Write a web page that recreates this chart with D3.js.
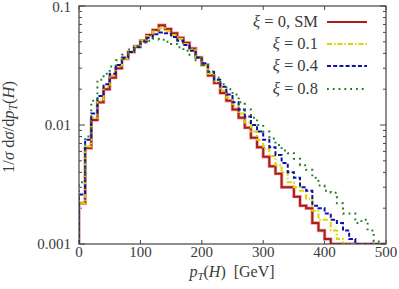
<!DOCTYPE html>
<html>
<head>
<meta charset="utf-8">
<script src="https://cdn.jsdelivr.net/npm/d3@7"></script>
<style>
  body { margin: 0; background: #fff; }
  text { font-family: "Liberation Serif", "DejaVu Serif", serif; fill: #3a3a3a; }
</style>
</head>
<body>
<svg id="chart" width="399" height="289"></svg>
<script>
// bins of 10 GeV, 0..500 GeV (values below 0.001 are cut at the bottom)
const binWidth = 10;
const seriesNames = ["ξ = 0, SM", "ξ = 0.1", "ξ = 0.4", "ξ = 0.8"];

const sm = [0.0022, 0.0064, 0.011, 0.0155, 0.020, 0.025, 0.030, 0.036, 0.041, 0.046,
  0.051, 0.057, 0.063, 0.069, 0.064, 0.059, 0.054, 0.049, 0.044, 0.037,
  0.032, 0.026, 0.0225, 0.0186, 0.016, 0.0135, 0.0115, 0.0095, 0.0078, 0.0065,
  0.0054, 0.0045, 0.0039, 0.0030, 0.0030, 0.0025, 0.0021, 0.0020, 0.0015, 0.0013,
  0.0011, 0.001, 0, 0, 0, 0, 0, 0, 0, 0];
const xi01 = [0.0022, 0.0066, 0.0115, 0.016, 0.021, 0.026, 0.031, 0.036, 0.041, 0.046,
  0.051, 0.056, 0.061, 0.065, 0.062, 0.057, 0.053, 0.048, 0.043, 0.037,
  0.032, 0.027, 0.023, 0.0195, 0.017, 0.0145, 0.0125, 0.0105, 0.0088, 0.0075,
  0.0063, 0.0055, 0.0046, 0.0040, 0.0033, 0.0030, 0.0028, 0.0024, 0.0019, 0.0016,
  0.0016, 0.0013, 0.0011, 0.001, 0, 0, 0, 0, 0, 0];
const xi04 = [0.0026, 0.0075, 0.0125, 0.0175, 0.022, 0.027, 0.032, 0.037, 0.041, 0.045,
  0.050, 0.054, 0.058, 0.060, 0.059, 0.055, 0.051, 0.047, 0.042, 0.037,
  0.033, 0.028, 0.024, 0.021, 0.018, 0.0155, 0.0135, 0.0118, 0.010, 0.0088,
  0.0075, 0.0065, 0.0056, 0.0048, 0.0040, 0.0036, 0.0030, 0.0028, 0.0021, 0.0020,
  0.0018, 0.0016, 0.0015, 0.0013, 0.0011, 0.001, 0, 0, 0, 0];
const xi08 = [0.0033, 0.0080, 0.016, 0.024, 0.027, 0.031, 0.035, 0.039, 0.043, 0.046,
  0.049, 0.051, 0.053, 0.052, 0.050, 0.048, 0.045, 0.042, 0.039, 0.035,
  0.032, 0.028, 0.025, 0.022, 0.020, 0.018, 0.0155, 0.0135, 0.0115, 0.010,
  0.0088, 0.0077, 0.0068, 0.0061, 0.0058, 0.0052, 0.0046, 0.0042, 0.0036, 0.0031,
  0.0028, 0.0027, 0.0022, 0.0018, 0.0018, 0.0015, 0.0016, 0.0013, 0.00105, 0.001];

const xTicks = [0, 100, 200, 300, 400, 500];
const yTicks = [0.001, 0.01, 0.1];
const yTickLabels = ["0.001", "0.01", "0.1"];

const allSeries = [sm, xi01, xi04, xi08];
const colors = ["#b01a1a", "#d6d600", "#1010a8", "#1d7d1d"];
const dashes = [null, "5,2,1.5,2", "4,2.2", "1.8,4"];

const pLeft = 79, pRight = 386, pTop = 6, pBottom = 244;
const x = d3.scaleLinear().domain([0, 500]).range([pLeft, pRight]);
const y = d3.scaleLog().domain([0.001, 0.1]).range([pBottom, pTop]);

const svg = d3.select("#chart");

svg.append("clipPath").attr("id", "clip")
  .append("rect").attr("x", pLeft).attr("y", pTop)
  .attr("width", pRight - pLeft).attr("height", pBottom - pTop);

// minor log ticks, both sides
const minor = [];
for (const dec of [0.001, 0.01]) for (let k = 2; k <= 9; k++) minor.push(dec * k);

const axisCol = "#444";
const tg = svg.append("g").attr("stroke", axisCol).attr("stroke-width", 1);
minor.forEach(v => {
  tg.append("line").attr("x1", pLeft).attr("x2", pLeft + 3).attr("y1", y(v)).attr("y2", y(v));
  tg.append("line").attr("x1", pRight).attr("x2", pRight - 3).attr("y1", y(v)).attr("y2", y(v));
});
yTicks.forEach(v => {
  tg.append("line").attr("x1", pLeft).attr("x2", pLeft + 6).attr("y1", y(v)).attr("y2", y(v));
  tg.append("line").attr("x1", pRight).attr("x2", pRight - 6).attr("y1", y(v)).attr("y2", y(v));
});
xTicks.forEach(v => {
  tg.append("line").attr("x1", x(v)).attr("x2", x(v)).attr("y1", pBottom).attr("y2", pBottom - 4);
  tg.append("line").attr("x1", x(v)).attr("x2", x(v)).attr("y1", pTop).attr("y2", pTop + 4);
});

// histograms as steps
const line = d3.line()
  .x(d => x(d[0]))
  .y(d => y(Math.max(d[1], 0.001)))
  .curve(d3.curveStepAfter);

function stepPoints(vals) {
  const pts = [[0, 0.001]];
  vals.forEach((v, i) => pts.push([i * binWidth, v]));
  pts.push([vals.length * binWidth, vals[vals.length - 1]]);
  return pts;
}

const plot = svg.append("g").attr("clip-path", "url(#clip)");
// soft halo under the SM line
plot.append("path").attr("d", line(stepPoints(sm)))
  .attr("fill", "none").attr("stroke", "#e6a4a4").attr("stroke-width", 3.4);
allSeries.forEach((s, i) => {
  plot.append("path").attr("d", line(stepPoints(s)))
    .attr("fill", "none")
    .attr("stroke", colors[i])
    .attr("stroke-width", 2)
    .attr("stroke-dasharray", dashes[i]);
});

// frame
svg.append("rect").attr("x", pLeft).attr("y", pTop)
  .attr("width", pRight - pLeft).attr("height", pBottom - pTop)
  .attr("fill", "none").attr("stroke", axisCol).attr("stroke-width", 1.2);

// tick labels
svg.selectAll(".xl").data(xTicks).enter().append("text")
  .attr("x", d => x(d)).attr("y", 257)
  .attr("text-anchor", "middle").attr("font-size", 15)
  .text(d => d);
svg.selectAll(".yl").data(yTicks).enter().append("text")
  .attr("x", 71).attr("y", d => Math.max(y(d) + 5, 12))
  .attr("text-anchor", "end").attr("font-size", 15)
  .text((d, i) => yTickLabels[i]);

// x axis title
const xt = svg.append("text").attr("x", 232).attr("y", 277)
  .attr("text-anchor", "middle").attr("font-size", 16);
xt.append("tspan").attr("font-style", "italic").text("p");
xt.append("tspan").attr("font-style", "italic").attr("font-size", 11).attr("dy", 3).text("T");
xt.append("tspan").attr("dy", -3).text("(");
xt.append("tspan").attr("font-style", "italic").text("H");
xt.append("tspan").text(")\u00a0\u00a0[GeV]");

// y axis title
const yt = svg.append("text")
  .attr("transform", "translate(14,127) rotate(-90)")
  .attr("text-anchor", "middle").attr("font-size", 16.5);
yt.append("tspan").text("1/");
yt.append("tspan").attr("font-style", "italic").text("σ");
yt.append("tspan").text("\u00a0d");
yt.append("tspan").attr("font-style", "italic").text("σ");
yt.append("tspan").text("/d");
yt.append("tspan").attr("font-style", "italic").text("p");
yt.append("tspan").attr("font-style", "italic").attr("font-size", 11.5).attr("dy", 3).text("T");
yt.append("tspan").attr("dy", -3).text("(");
yt.append("tspan").attr("font-style", "italic").text("H");
yt.append("tspan").text(")");

// legend
const legY = [22, 44, 66, 89];
seriesNames.forEach((name, i) => {
  const t = svg.append("text").attr("x", 318).attr("y", legY[i] + 5)
    .attr("text-anchor", "end").attr("font-size", 16.5);
  t.append("tspan").attr("font-style", "italic").text("ξ");
  t.append("tspan").text(name.slice(1));
  svg.append("line").attr("x1", 327).attr("x2", 367)
    .attr("y1", legY[i]).attr("y2", legY[i])
    .attr("stroke", colors[i]).attr("stroke-width", 2)
    .attr("stroke-dasharray", dashes[i]);
});
</script>
</body>
</html>
